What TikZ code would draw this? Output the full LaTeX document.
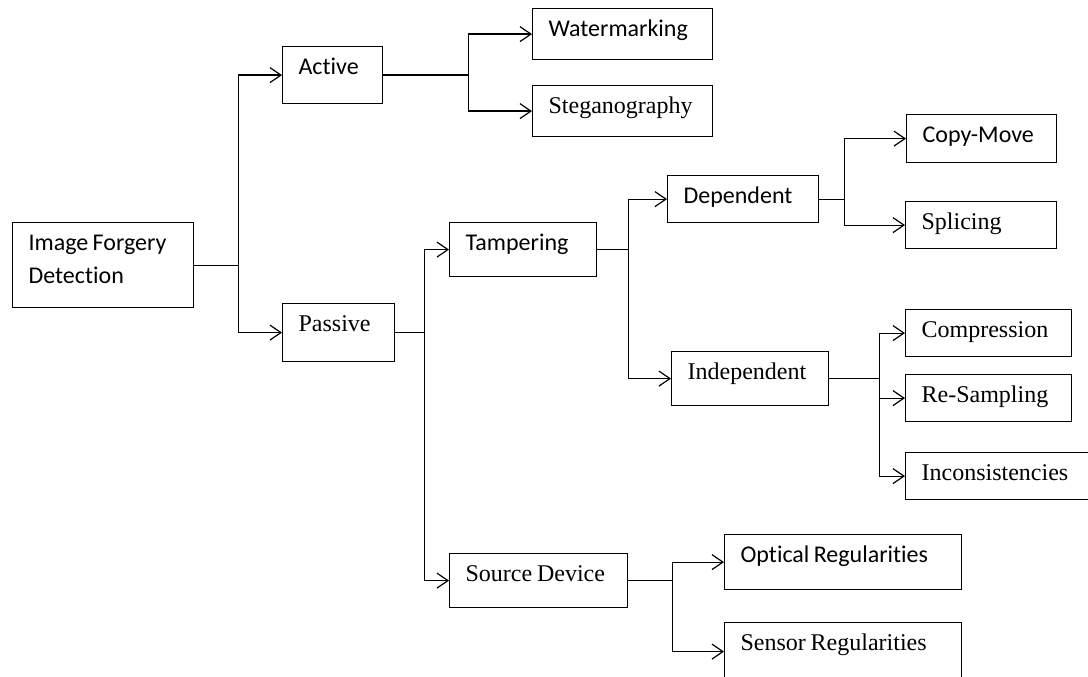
\documentclass[tikz,border=0pt]{standalone}
\usepackage{fontspec}
\setmainfont[WordSpace=0.8]{Liberation Serif}
\newfontfamily\calibri[Ligatures=NoCommon,WordSpace=0.8]{Carlito}
\usetikzlibrary{arrows.meta}

\begin{document}
\begin{tikzpicture}[x=1pt,y=-1pt]
        % Define styles for boxes and links
        \tikzstyle{box} = [draw, line width=1.2pt, anchor=north west, align=flush left,
            inner xsep=16pt, inner ysep=0pt, text height=28pt]
        \tikzstyle{sansbox} = [box, font=\calibri\fontsize{24pt}{33pt}\selectfont]
        \tikzstyle{serifbox} = [box, font=\fontsize{24pt}{33pt}\selectfont]
        \tikzstyle{link} = [line width=1.2pt, -{Straight Barb[length=11pt,width=15pt,line width=1.2pt]}]

        \useasboundingbox (0,0) rectangle (1088,677);

        % Draw boxes
        \node[sansbox, text width=149pt, text depth=57pt] (ifd) at (12,222) {Image Forgery\\Detection};

        \node[sansbox, text width=68pt, text depth=29pt] (active) at (282,46) {Active};
        \node[serifbox, text width=80pt, text depth=30pt] (passive) at (282,303) {Passive};

        \node[sansbox, text width=148pt, text depth=23pt] (water) at (532,8) {Watermarking};
        \node[serifbox, text width=148pt, text depth=23pt] (stega) at (532,85) {Steganography};

        \node[sansbox, text width=115pt, text depth=26pt] (tamper) at (449,222) {Tampering};
        \node[serifbox, text width=146pt, text depth=26pt] (source) at (449,553) {Source Device};

        \node[sansbox, text width=119pt, text depth=19pt] (dep) at (667,175) {Dependent};
        \node[serifbox, text width=125pt, text depth=26pt] (indep) at (671,351) {Independent};

        \node[sansbox, text width=118pt, text depth=20pt] (copymove) at (906,114) {Copy-Move};
        \node[serifbox, text width=119pt, text depth=19pt] (splice) at (905,201) {Splicing};

        \node[serifbox, text width=134pt, text depth=19pt] (compr) at (905,309) {Compression};
        \node[serifbox, text width=134pt, text depth=19pt] (resamp) at (905,374) {Re-Sampling};
        \node[serifbox, text width=158pt, text depth=19pt] (incons) at (905,452) {Inconsistencies};

        \node[sansbox, text width=205pt, text depth=27pt] (optical) at (724,534) {Optical Regularities};
        \node[serifbox, text width=205pt, text depth=30pt] (sensor) at (724,622) {Sensor Regularities};

        % Draw links
        \draw[link] (ifd.east) -- ++(44,0) |- (active.west);
        \draw[link] (ifd.east) -- ++(44,0) |- (passive.west);

        \draw[link] (active.east) -- ++(85,0) |- (water.west);
        \draw[link] (active.east) -- ++(85,0) |- (stega.west);

        \draw[link] (passive.east) -- ++(29,0) |- (tamper.west);
        \draw[link] (passive.east) -- ++(29,0) |- (source.west);

        \draw[link] (tamper.east) -- ++(31,0) |- (dep.west);
        \draw[link] (tamper.east) -- ++(31,0) |- (indep.west);

        \draw[link] (dep.east) -- ++(25,0) |- (copymove.west);
        \draw[link] (dep.east) -- ++(25,0) |- (splice.west);

        \draw[link] (indep.east) -- ++(50,0) |- (compr.west);
        \draw[link] (indep.east) -- ++(50,0) |- (resamp.west);
        \draw[link] (indep.east) -- ++(50,0) |- (incons.west);

        \draw[link] (source.east) -- ++(44,0) |- (optical.west);
        \draw[link] (source.east) -- ++(44,0) |- (sensor.west);
    \end{tikzpicture}
\end{document}
